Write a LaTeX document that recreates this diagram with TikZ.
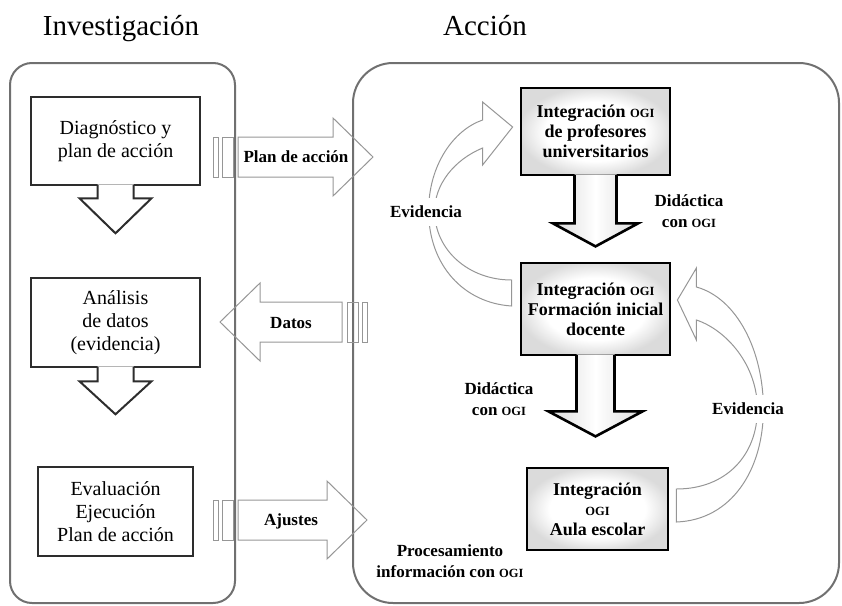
\documentclass[tikz,border=0pt]{standalone}
\usepackage{fontspec}
\setmainfont{Liberation Serif}
\usetikzlibrary{calc}

\definecolor{framegray}{RGB}{112,112,112}
\definecolor{arrowgray}{RGB}{150,150,150}
\definecolor{boxdark}{RGB}{45,45,45}

\newcommand{\titlefont}{\fontsize{29}{34}\selectfont}
\newcommand{\boxfont}{\fontsize{20}{23}\selectfont}
\newcommand{\rboxfont}{\bfseries\fontsize{18}{20}\selectfont}
\newcommand{\lblfont}{\bfseries\fontsize{17}{21}\selectfont}
\newcommand{\ogi}{{\fontsize{12.5}{12.5}\selectfont OGI}}

% white middle, soft grey rim
\pgfdeclareradialshading{boxglow}{\pgfpoint{0bp}{0bp}}{color(0bp)=(white); color(17bp)=(white); color(26bp)=(gray!28); color(50bp)=(gray!28)}

\tikzset{
  frame/.style={draw=framegray, line width=2pt, inner sep=0pt},
  leftbox/.style={draw=boxdark, line width=2.6pt, inner sep=0pt, align=center, font=\boxfont},
  rightbox/.style={draw=black, line width=2.8pt, inner sep=0pt, align=center, font=\rboxfont,
    shade, shading=boxglow},
  stripe/.style={draw=arrowgray, line width=1pt, line join=miter},
  lbl/.style={font=\lblfont, align=center, inner sep=1pt},
  ldownfill/.style={fill=white},
  ldownline/.style={draw=boxdark, line width=2pt, line join=miter},
  rdownfill/.style={shade, left color=gray!28, right color=gray!28, middle color=white},
  rdownline/.style={draw=black, line width=2.6pt, line join=miter},
}

% block arrow hanging below a node
\newcommand{\blockdown}[7]{%
  \begin{scope}[shift={(#1.south)}]
    \path[#6] (-#2,-2) -- (-#2,#4) -- (-#3,#4) -- (0,#5) -- (#3,#4) -- (#2,#4) -- (#2,-2) -- cycle;
    \draw[#7] (-#2,-1.3) -- (-#2,#4) -- (-#3,#4) -- (0,#5) -- (#3,#4) -- (#2,#4) -- (#2,-1.3);
  \end{scope}}

% striped block arrow: tail, length, direction
\newcommand{\stripedarrow}[3]{%
  \begin{scope}[shift={(#1)}, xscale=#3]
    \draw[stripe] (0,-20) rectangle (5,20) (9,-20) rectangle (20,20);
    \draw[stripe] (25,-20) -- (#2-40,-20) -- (#2-40,-39) -- (#2,0) -- (#2-40,39) -- (#2-40,20) -- (25,20) -- cycle;
  \end{scope}}

\begin{document}
\begin{tikzpicture}[x=1pt,y=-1pt]
  \useasboundingbox (0,0) rectangle (842,605);
  %% frames and titles
  \node[frame, rounded corners=22pt, minimum width=225pt, minimum height=540pt] (invest) at (122.5,333) {};
  \node[frame, rounded corners=40pt, minimum width=486pt, minimum height=540pt] (accion) at (596,333) {};
  \node[anchor=base, font=\titlefont] (tinvest) at (121,35) {Investigación};
  \node[anchor=base, font=\titlefont] (taccion) at (485,35) {Acción};
  %% Investigación
  \node[leftbox, minimum width=169pt, minimum height=88pt] (diag) at (115.5,141) {Diagnóstico y\\plan de acción};
  \node[leftbox, minimum width=169pt, minimum height=89pt] (ana) at (115.5,322.5) {Análisis\\de datos\\(evidencia)};
  \node[leftbox, minimum width=155pt, minimum height=89pt] (eval) at (115.5,511.5) {Evaluación\\Ejecución\\Plan de acción};
  \blockdown{diag}{18}{36}{12}{47}{ldownfill}{ldownline}
  \blockdown{ana}{18}{36}{13}{46}{ldownfill}{ldownline}
  %% Acción
  \node[rightbox, minimum width=149pt, minimum height=87pt] (intA) at (595.5,131.5) {Integración \ogi\\de profesores\\universitarios};
  \node[rightbox, minimum width=149pt, minimum height=92pt] (intB) at (595.5,309) {Integración \ogi\\Formación inicial\\docente};
  \node[rightbox, minimum width=141pt, minimum height=82pt] (intC) at (597.5,509) {Integración\\\ogi\\Aula escolar};
  \blockdown{intA}{21}{42.5}{47}{70}{rdownfill}{rdownline}
  \blockdown{intB}{19}{47}{55}{80}{rdownfill}{rdownline}
  %% striped arrows between the frames
  \coordinate (plan-tail) at (213,157);
  \coordinate (datos-tail) at (367,322);
  \coordinate (ajustes-tail) at (213,520);
  \stripedarrow{plan-tail}{160}{1}
  \stripedarrow{datos-tail}{147}{-1}
  \stripedarrow{ajustes-tail}{154}{1}
  \node[lbl] (lplan) at (296,157) {Plan de acción};
  \node[lbl] (ldatos) at (291,323) {Datos};
  \node[lbl] (lajustes) at (291,521) {Ajustes};
  %% curved arrows
  \begin{scope}[shift={(intB.west)}]
    \draw[stripe] (-8,-3) .. controls (-56,-6) and (-91,-44) .. (-91,-98)
      .. controls (-91,-144) and (-66,-179) .. (-37,-189)
      -- (-37,-207) -- (-7,-182) -- (-37,-144) -- (-37,-161)
      .. controls (-66,-149) and (-85,-124) .. (-85,-98)
      .. controls (-85,-59) and (-51,-29) .. (-8,-29) -- cycle;
  \end{scope}
  \begin{scope}[shift={(intC.east)}]
    \draw[stripe] (7,13) .. controls (62,11) and (94,-39) .. (94,-100)
      .. controls (94,-159) and (67,-211) .. (27,-222)
      -- (27,-241) -- (8,-209) -- (27,-169) -- (27,-189)
      .. controls (57,-179) and (88,-144) .. (88,-100)
      .. controls (88,-54) and (57,-20) .. (7,-20) -- cycle;
  \end{scope}
  \node[lbl, fill=white, inner ysep=8pt] (evid1) at (426,212) {Evidencia};
  \node[lbl, fill=white, inner ysep=8pt] (evid2) at (748,409) {Evidencia};
  %% labels
  \node[lbl] (didA) at (689,211) {Didáctica\\con \ogi};
  \node[lbl] (didB) at (499,399) {Didáctica\\con \ogi};
  \node[lbl] (proc) at (450,561) {Procesamiento\\información con \ogi};
\end{tikzpicture}
\end{document}
